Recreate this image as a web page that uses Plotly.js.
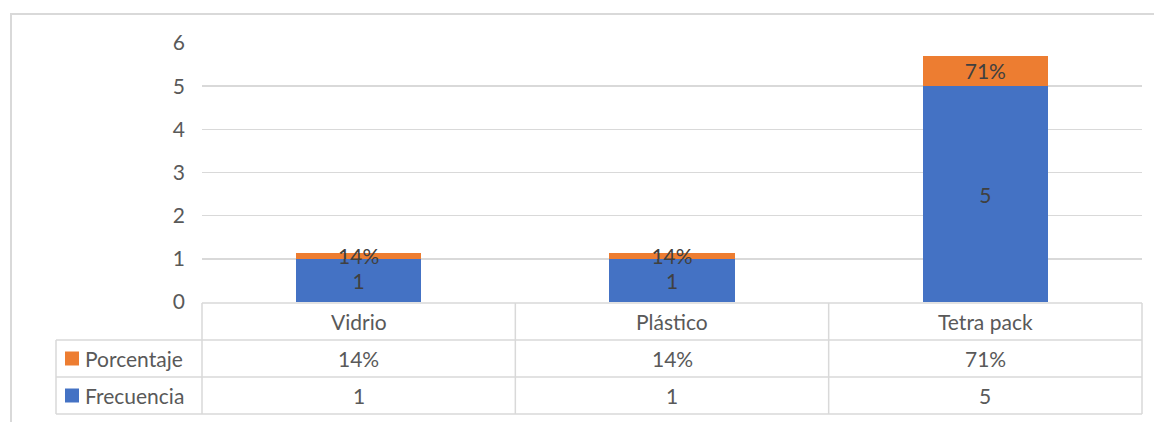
<!DOCTYPE html>
<html>
<head>
<meta charset="utf-8">
<script src="https://cdn.plot.ly/plotly-3.0.1.min.js"></script>
<style>html,body{margin:0;padding:0;background:#fff;}</style>
</head>
<body>
<div id="chart" style="width:1154px;height:422px;"></div>
<script>
const categories = ["Vidrio", "Plástico", "Tetra pack"];
const frecuencia = [1, 1, 5];
const porcentaje = [0.14, 0.14, 0.71];
const seriesNames = ["Frecuencia", "Porcentaje"];
const yTicks = [0, 1, 2, 3, 4, 5, 6];

const blue = "#4472C4", orange = "#ED7D31";
const gridC = "#d9d9d9", txtC = "#595959", labC = "#404040";
const FONT = "Lato, 'Open Sans', sans-serif";
const FS = 21;

// pixel -> paper helpers (plot area: x 202..1142, y 43..302)
const L = 202, R = 1142, T = 43, B = 302;
const px = x => (x - L) / (R - L);
const py = y => (B - y) / (B - T);

const traces = [
  {type: "bar", name: seriesNames[0], x: categories, y: frecuencia,
   marker: {color: blue}, texttemplate: "%{y}", textposition: "inside",
   insidetextanchor: "middle", textangle: 0, constraintext: "none",
   textfont: {family: FONT, size: FS, color: labC}, hoverinfo: "skip"},
  {type: "bar", name: seriesNames[1], x: categories, y: porcentaje,
   marker: {color: orange}, texttemplate: "%{y:.0%}", textposition: "inside",
   insidetextanchor: "middle", textangle: 0, constraintext: "none",
   textfont: {family: FONT, size: FS, color: labC}, hoverinfo: "skip"}
];

const shapes = [];
const annotations = [];
const line = {color: gridC, width: 1.5};
// outer frame
shapes.push({type: "rect", xref: "paper", yref: "paper", x0: px(11), x1: px(1170), y0: py(440), y1: py(14), line: {color: gridC, width: 2}});
// table horizontal lines
shapes.push({type: "line", xref: "paper", yref: "paper", x0: 0, x1: 1, y0: py(303), y1: py(303), line});
[340, 377, 414].forEach(y => shapes.push({type: "line", xref: "paper", yref: "paper", x0: px(56), x1: 1, y0: py(y), y1: py(y), line}));
// vertical lines
[0, 1/3, 2/3, 1].forEach(x => shapes.push({type: "line", xref: "paper", yref: "paper", x0: x, x1: x, y0: py(303), y1: py(414), line}));
shapes.push({type: "line", xref: "paper", yref: "paper", x0: px(56), x1: px(56), y0: py(340), y1: py(414), line});

const rowY = [py(321.5), py(358.5), py(395.5)];
const tf = {family: FONT, size: FS, color: txtC};
categories.forEach((c, i) => {
  annotations.push({xref: "x", yref: "paper", x: c, y: rowY[0], yanchor: "middle", text: c, showarrow: false, font: tf});
  annotations.push({xref: "x", yref: "paper", x: c, y: rowY[1], yanchor: "middle", text: Math.round(porcentaje[i] * 100) + "%", showarrow: false, font: tf});
  annotations.push({xref: "x", yref: "paper", x: c, y: rowY[2], yanchor: "middle", text: String(frecuencia[i]), showarrow: false, font: tf});
});
// legend keys in table
[[seriesNames[1], orange, 358.5], [seriesNames[0], blue, 395.5]].forEach(([n, col, cy]) => {
  shapes.push({type: "rect", xref: "paper", yref: "paper", x0: px(65), x1: px(79), y0: py(cy + 7), y1: py(cy - 7), fillcolor: col, line: {width: 0}});
  annotations.push({xref: "paper", yref: "paper", x: px(83), y: py(cy), xanchor: "left", yanchor: "middle", text: n, showarrow: false, font: tf});
});

const layout = {
  width: 1154, height: 422,
  margin: {l: L, r: 1154 - R, t: T, b: 422 - B, pad: 0},
  paper_bgcolor: "#fff", plot_bgcolor: "#fff",
  barmode: "stack", bargap: 0.6, showlegend: false,
  font: {family: FONT, color: txtC, size: FS},
  xaxis: {type: "category", showticklabels: false, showgrid: false, zeroline: false, showline: false, ticks: ""},
  yaxis: {range: [0, 6], tickvals: yTicks, ticktext: yTicks.map(String), showgrid: true, gridcolor: gridC, gridwidth: 1.5,
          zeroline: false, showline: false, ticks: "", ticklabelstandoff: 16, tickfont: {family: FONT, size: FS, color: txtC}},
  shapes, annotations
};

Plotly.newPlot("chart", traces, layout, {staticPlot: true, displayModeBar: false});
</script>
</body>
</html>
